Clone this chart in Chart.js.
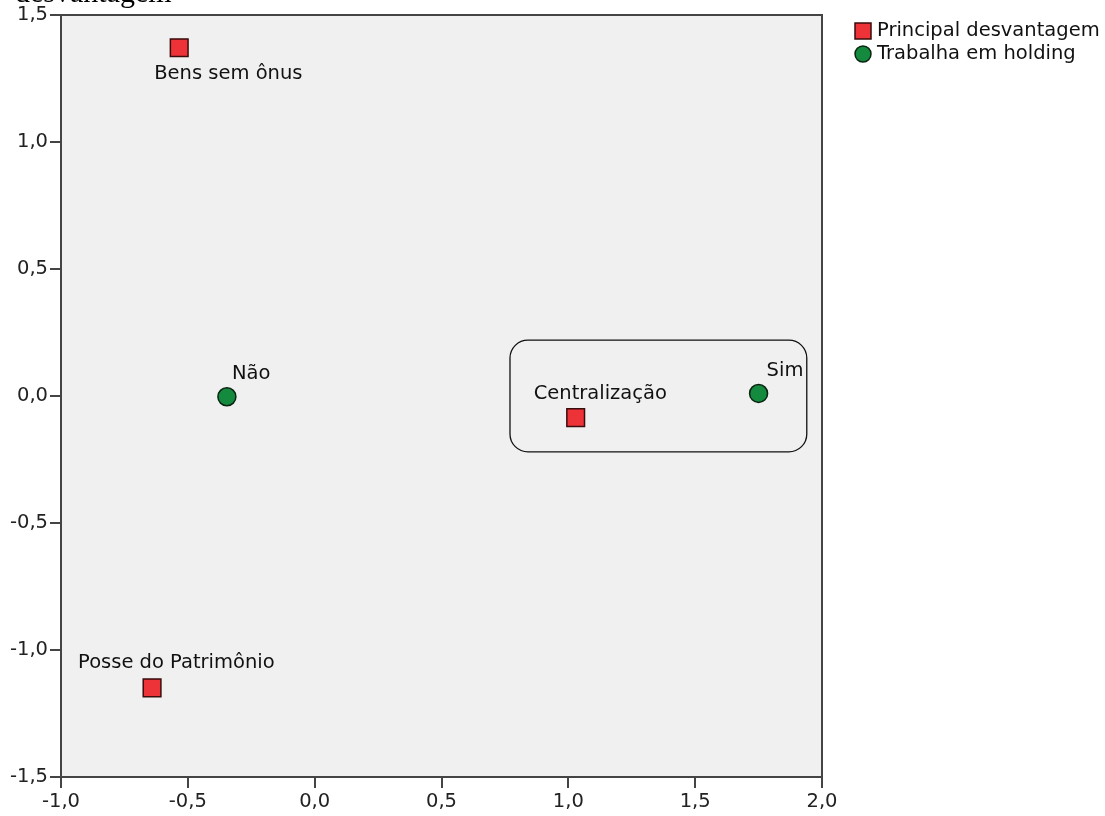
<!DOCTYPE html>
<html>
<head>
<meta charset="utf-8">
<script src="https://cdn.jsdelivr.net/npm/chart.js@4/dist/chart.umd.min.js"></script>
<style>
    body { margin: 0; background: #fff; }
    canvas { display: block; }
</style>
</head>
<body>
<canvas id="grafico" width="1105" height="816"></canvas>
<script>
// pontos de categoria - principal desvantagem
const desvantagemNomes = ['Bens sem ônus', 'Centralização', 'Posse do Patrimônio'];
const desvantagemX = [-0.534, 1.029, -0.641];
const desvantagemY = [1.371, -0.085, -1.149];

// pontos de categoria - trabalha em holding
const holdingNomes = ['Não', 'Sim'];
const holdingX = [-0.346, 1.750];
const holdingY = [-0.003, 0.010];

const serieNomes = ['Principal desvantagem', 'Trabalha em holding'];
const tituloCortado = 'desvantagem';

// deslocamento (px) do rótulo em relação ao ponto: [esquerda, centro vertical]
const desvantagemRotulo = [[-25, 26], [-42, -24], [-74, -25]];
const holdingRotulo = [[5, -23], [8, -23]];

// região destacada (coordenadas dos eixos)
const destaque = { xMin: 0.77, xMax: 1.94, yMin: -0.22, yMax: 0.22 };

const fonte = 'DejaVu Sans';
const tamanho = 19.5;
const virgula = v => v.toFixed(1).replace('.', ',');

const pontos = (xs, ys) => xs.map((x, i) => ({ x: x, y: ys[i] }));

const rotulos = [desvantagemNomes, holdingNomes];
const offsets = [desvantagemRotulo, holdingRotulo];

const caixaArredondada = (ctx, x, y, w, h, r) => {
    ctx.beginPath();
    ctx.moveTo(x + r, y);
    ctx.arcTo(x + w, y, x + w, y + h, r);
    ctx.arcTo(x + w, y + h, x, y + h, r);
    ctx.arcTo(x, y + h, x, y, r);
    ctx.arcTo(x, y, x + w, y, r);
    ctx.closePath();
};

const extras = {
    id: 'extras',
    beforeDraw: (chart) => {
        const { ctx, chartArea: a } = chart;
        ctx.save();
        ctx.fillStyle = '#f0f0f0';
        ctx.fillRect(a.left, a.top, a.right - a.left, a.bottom - a.top);
        ctx.restore();
    },
    beforeDatasetsDraw: (chart) => {
        const { ctx, chartArea: a, scales } = chart;
        ctx.save();
        ctx.strokeStyle = '#444';
        ctx.lineWidth = 2;
        ctx.strokeRect(a.left, a.top, a.right - a.left, a.bottom - a.top);

        const x0 = scales.x.getPixelForValue(destaque.xMin);
        const x1 = scales.x.getPixelForValue(destaque.xMax);
        const y0 = scales.y.getPixelForValue(destaque.yMax);
        const y1 = scales.y.getPixelForValue(destaque.yMin);
        caixaArredondada(ctx, x0, y0, x1 - x0, y1 - y0, 18);
        ctx.strokeStyle = '#111';
        ctx.lineWidth = 1.3;
        ctx.stroke();
        ctx.restore();
    },
    afterDatasetsDraw: (chart) => {
        const { ctx } = chart;
        ctx.save();
        ctx.font = `${tamanho}px "${fonte}"`;
        ctx.fillStyle = '#111';
        ctx.textAlign = 'left';
        ctx.textBaseline = 'middle';
        chart.data.datasets.forEach((ds, d) => {
            chart.getDatasetMeta(d).data.forEach((el, i) => {
                const [dx, dy] = offsets[d][i];
                ctx.fillText(rotulos[d][i], el.x + dx, el.y + dy);
            });
        });
        ctx.restore();
    },
    afterDraw: (chart) => {
        const { ctx } = chart;
        ctx.save();
        // legenda
        ctx.font = `${tamanho}px "${fonte}"`;
        ctx.textBaseline = 'middle';
        chart.data.datasets.forEach((ds, d) => {
            const cx = 863;
            const cy = 31 + d * 23;
            ctx.fillStyle = ds.backgroundColor;
            ctx.strokeStyle = ds.borderColor;
            ctx.lineWidth = 1.5;
            ctx.beginPath();
            if (ds.pointStyle === 'rect') {
                ctx.rect(cx - 8, cy - 8, 16, 16);
            } else {
                ctx.arc(cx, cy, 8, 0, Math.PI * 2);
            }
            ctx.fill();
            ctx.stroke();
            ctx.fillStyle = '#111';
            ctx.fillText(serieNomes[d], cx + 14, cy);
        });

        // título que sobra no topo
        ctx.font = '30px "Liberation Serif"';
        ctx.textBaseline = 'alphabetic';
        ctx.fillStyle = '#000';
        ctx.fillText(tituloCortado, 15, 2);
        ctx.restore();
    }
};

const eixo = (min, max) => ({
    type: 'linear',
    min: min,
    max: max,
    ticks: {
        stepSize: 0.5,
        callback: v => virgula(v),
        font: { family: fonte, size: tamanho },
        color: '#222',
        padding: 2
    },
    grid: {
        display: true,
        drawOnChartArea: false,
        drawTicks: true,
        tickLength: 11,
        tickColor: '#444',
        lineWidth: 2
    },
    border: { display: false }
});

const eixoX = eixo(-1, 2);
eixoX.afterFit = (s) => { s.height = 39; };
const eixoY = eixo(-1.5, 1.5);
eixoY.afterFit = (s) => { s.width = 61; };

const config = {
    type: 'scatter',
    data: {
        datasets: [{
            label: serieNomes[0],
            data: pontos(desvantagemX, desvantagemY),
            pointStyle: 'rect',
            pointRadius: 12.5,
            pointHoverRadius: 12.5,
            backgroundColor: '#ee3338',
            borderColor: '#3a0c0c',
            borderWidth: 1.5
        }, {
            label: serieNomes[1],
            data: pontos(holdingX, holdingY),
            pointStyle: 'circle',
            pointRadius: 9,
            pointHoverRadius: 9,
            backgroundColor: '#138a3e',
            borderColor: '#0b2412',
            borderWidth: 1.5
        }]
    },
    options: {
        responsive: false,
        animation: false,
        devicePixelRatio: 1,
        layout: {
            padding: { top: 15, right: 283, left: 0, bottom: 0 }
        },
        scales: {
            x: eixoX,
            y: eixoY
        },
        plugins: {
            legend: { display: false },
            tooltip: { enabled: false }
        }
    },
    plugins: [extras]
};

const meuGrafico = new Chart(document.getElementById('grafico'), config);
</script>
</body>
</html>
